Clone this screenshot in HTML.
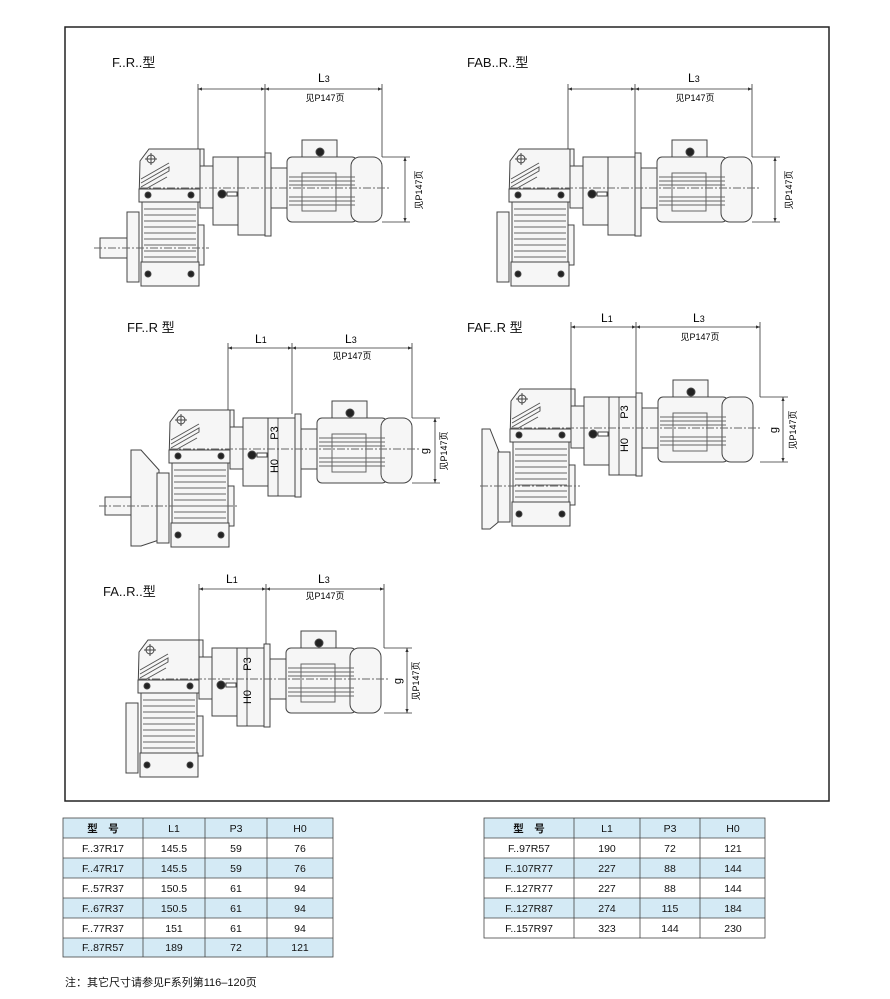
<!DOCTYPE html>
<html><head><meta charset="utf-8"><style>
html,body{margin:0;padding:0;background:#fff;}
svg{display:block;font-family:"Liberation Sans","Noto Sans CJK SC",sans-serif;}
</style></head><body>
<svg width="890" height="999" viewBox="0 0 890 999" xmlns="http://www.w3.org/2000/svg">
<defs>
<marker id="a" viewBox="0 0 10 10" refX="10" refY="5" markerWidth="7" markerHeight="5" orient="auto-start-reverse"><path d="M0,1 L10,5 L0,9 Z" fill="#333"/></marker>
<g id="gb" stroke="#444" stroke-width="1" fill="#f6f6f6">
  <rect x="-12" y="63" width="12" height="70"/>
  <rect x="59" y="76" width="6" height="40"/>
  <rect x="3" y="52" width="56" height="80"/>
  <g stroke="#666">
   <line x1="5" y1="60" x2="57" y2="60"/><line x1="5" y1="66" x2="57" y2="66"/><line x1="5" y1="72" x2="57" y2="72"/><line x1="5" y1="78" x2="57" y2="78"/><line x1="5" y1="84" x2="57" y2="84"/><line x1="5" y1="90" x2="57" y2="90"/><line x1="5" y1="96" x2="57" y2="96"/><line x1="5" y1="102" x2="57" y2="102"/><line x1="5" y1="108" x2="57" y2="108"/>
  </g>
  <path d="M1,12 L10,0 L61,0 L61,52 L0,52 Z"/>
  <rect x="61" y="0" width="4" height="48"/>
  <path d="M2,34 L30,18 L30,22 L2,38 M2,30 L30,14 M3,42 L28,28" fill="none" stroke="#555"/>
  <circle cx="12" cy="10" r="4"/>
  <line x1="6" y1="10" x2="18" y2="10"/><line x1="12" y1="4" x2="12" y2="16"/>
  <rect x="0" y="40" width="61" height="13"/>
  <circle cx="9" cy="46" r="3" fill="#222"/><circle cx="52" cy="46" r="3" fill="#222"/>
  <rect x="2" y="113" width="58" height="24"/>
  <circle cx="9" cy="125" r="3" fill="#222"/><circle cx="52" cy="125" r="3" fill="#222"/>
</g>
<g id="im" stroke="#444" stroke-width="1" fill="#f6f6f6">
  <rect x="61" y="17" width="13" height="42"/>
  <rect x="74" y="8" width="25" height="68"/>
  <rect x="99" y="8" width="27" height="78"/>
  <rect x="126" y="4" width="6" height="83"/>
  <rect x="132" y="19" width="16" height="40"/>
  <circle cx="83" cy="45" r="4" fill="#222"/>
  <rect x="88" y="43" width="10" height="4" fill="#fff"/>
</g>
<g id="mo" stroke="#444" stroke-width="1" fill="#f6f6f6">
  <rect x="163" y="-9" width="35" height="27"/>
  <circle cx="181" cy="3" r="4" fill="#222"/>
  <rect x="148" y="8" width="70" height="65" rx="5"/>
  <rect x="212" y="8" width="31" height="65" rx="9"/>
  <g fill="none" stroke="#666">
   <line x1="150" y1="28" x2="216" y2="28"/><line x1="150" y1="32" x2="216" y2="32"/><line x1="150" y1="36" x2="216" y2="36"/><line x1="150" y1="48" x2="216" y2="48"/><line x1="150" y1="52" x2="216" y2="52"/><line x1="150" y1="56" x2="216" y2="56"/>
   <rect x="163" y="24" width="34" height="38"/>
  </g>
</g>
</defs>

<rect x="65" y="27" width="764" height="774" fill="none" stroke="#222" stroke-width="1.5"/>

<g font-size="13" fill="#111">
<text x="112" y="67">F..R..型</text>
<text x="467" y="67">FAB..R..型</text>
<text x="127" y="332">FF..R 型</text>
<text x="467" y="332">FAF..R 型</text>
<text x="103" y="596">FA..R..型</text>
</g>

<!-- F..R -->
<g transform="translate(139,149)">
 <rect x="-39" y="89" width="30" height="20" fill="#f6f6f6" stroke="#444"/>
 <use href="#gb"/><use href="#im"/><use href="#mo"/>
 <line x1="-45" y1="99" x2="70" y2="99" stroke="#666" stroke-dasharray="8,2,2,2"/>
 <line x1="0" y1="39" x2="250" y2="39" stroke="#666" stroke-dasharray="8,2,2,2"/>
</g>
<g stroke="#333" stroke-width="0.8" fill="none">
 <line x1="198" y1="84" x2="198" y2="149"/><line x1="265" y1="84" x2="265" y2="153"/><line x1="382" y1="84" x2="382" y2="157"/>
 <line x1="198" y1="89" x2="265" y2="89" marker-start="url(#a)" marker-end="url(#a)"/>
 <line x1="265" y1="89" x2="382" y2="89" marker-start="url(#a)" marker-end="url(#a)"/>
 <line x1="382" y1="157" x2="410" y2="157"/><line x1="382" y1="222" x2="410" y2="222"/>
 <line x1="405" y1="157" x2="405" y2="222" marker-start="url(#a)" marker-end="url(#a)"/>
</g>
<text x="318" y="82" font-size="12">L<tspan font-size="9">3</tspan></text>
<text x="325" y="101" font-size="9" text-anchor="middle">见P147页</text>
<text transform="translate(422,190) rotate(-90)" font-size="9" text-anchor="middle">见P147页</text>

<!-- FAB -->
<g transform="translate(509,149)">
 <use href="#gb"/><use href="#im"/><use href="#mo"/>
 <line x1="0" y1="39" x2="250" y2="39" stroke="#666" stroke-dasharray="8,2,2,2"/>
</g>
<g stroke="#333" stroke-width="0.8" fill="none">
 <line x1="568" y1="84" x2="568" y2="149"/><line x1="635" y1="84" x2="635" y2="153"/><line x1="752" y1="84" x2="752" y2="157"/>
 <line x1="568" y1="89" x2="635" y2="89" marker-start="url(#a)" marker-end="url(#a)"/>
 <line x1="635" y1="89" x2="752" y2="89" marker-start="url(#a)" marker-end="url(#a)"/>
 <line x1="752" y1="157" x2="780" y2="157"/><line x1="752" y1="222" x2="780" y2="222"/>
 <line x1="775" y1="157" x2="775" y2="222" marker-start="url(#a)" marker-end="url(#a)"/>
</g>
<text x="688" y="82" font-size="12">L<tspan font-size="9">3</tspan></text>
<text x="695" y="101" font-size="9" text-anchor="middle">见P147页</text>
<text transform="translate(792,190) rotate(-90)" font-size="9" text-anchor="middle">见P147页</text>

<!-- FF -->
<g transform="translate(169,410)">
 <path d="M-38,40 L-28,40 L-10,60 L-10,130 L-28,136 L-38,136 Z" fill="#f6f6f6" stroke="#444"/>
 <rect x="-64" y="87" width="26" height="18" fill="#f6f6f6" stroke="#444"/>
 <use href="#gb"/><use href="#im"/><use href="#mo"/>
 <line x1="-70" y1="96" x2="70" y2="96" stroke="#666" stroke-dasharray="8,2,2,2"/>
 <line x1="0" y1="39" x2="250" y2="39" stroke="#666" stroke-dasharray="8,2,2,2"/>
 <line x1="109" y1="8" x2="109" y2="86" stroke="#333" stroke-width="0.8"/>
</g>
<g stroke="#333" stroke-width="0.8" fill="none">
 <line x1="228" y1="343" x2="228" y2="410"/><line x1="292" y1="343" x2="292" y2="414"/><line x1="412" y1="343" x2="412" y2="418"/>
 <line x1="228" y1="348" x2="292" y2="348" marker-start="url(#a)" marker-end="url(#a)"/>
 <line x1="292" y1="348" x2="412" y2="348" marker-start="url(#a)" marker-end="url(#a)"/>
 <line x1="412" y1="418" x2="440" y2="418"/><line x1="412" y1="483" x2="440" y2="483"/>
 <line x1="435" y1="418" x2="435" y2="483" marker-start="url(#a)" marker-end="url(#a)"/>
</g>
<text x="255" y="343" font-size="12">L<tspan font-size="9">1</tspan></text>
<text x="345" y="343" font-size="12">L<tspan font-size="9">3</tspan></text>
<text x="352" y="359" font-size="9" text-anchor="middle">见P147页</text>
<text transform="translate(278,433) rotate(-90)" font-size="11" text-anchor="middle">P3</text>
<text transform="translate(278,466) rotate(-90)" font-size="11" text-anchor="middle">H0</text>
<text transform="translate(428,451) rotate(-90)" font-size="11" text-anchor="middle">g</text>
<text transform="translate(447,451) rotate(-90)" font-size="9" text-anchor="middle">见P147页</text>

<!-- FAF -->
<g transform="translate(510,389)">
 <path d="M-28,40 L-20,40 L-8,70 L-8,130 L-20,140 L-28,140 Z" fill="#f6f6f6" stroke="#444"/>
 <use href="#gb"/><use href="#im"/><use href="#mo"/>
 <line x1="-30" y1="97" x2="70" y2="97" stroke="#666" stroke-dasharray="8,2,2,2"/>
 <line x1="0" y1="39" x2="250" y2="39" stroke="#666" stroke-dasharray="8,2,2,2"/>
 <line x1="109" y1="8" x2="109" y2="86" stroke="#333" stroke-width="0.8"/>
</g>
<g stroke="#333" stroke-width="0.8" fill="none">
 <line x1="571" y1="322" x2="571" y2="389"/><line x1="636" y1="322" x2="636" y2="393"/><line x1="760" y1="322" x2="760" y2="397"/>
 <line x1="571" y1="327" x2="636" y2="327" marker-start="url(#a)" marker-end="url(#a)"/>
 <line x1="636" y1="327" x2="760" y2="327" marker-start="url(#a)" marker-end="url(#a)"/>
 <line x1="760" y1="397" x2="788" y2="397"/><line x1="760" y1="462" x2="788" y2="462"/>
 <line x1="783" y1="397" x2="783" y2="462" marker-start="url(#a)" marker-end="url(#a)"/>
</g>
<text x="601" y="322" font-size="12">L<tspan font-size="9">1</tspan></text>
<text x="693" y="322" font-size="12">L<tspan font-size="9">3</tspan></text>
<text x="700" y="340" font-size="9" text-anchor="middle">见P147页</text>
<text transform="translate(628,412) rotate(-90)" font-size="11" text-anchor="middle">P3</text>
<text transform="translate(628,445) rotate(-90)" font-size="11" text-anchor="middle">H0</text>
<text transform="translate(777,430) rotate(-90)" font-size="11" text-anchor="middle">g</text>
<text transform="translate(796,430) rotate(-90)" font-size="9" text-anchor="middle">见P147页</text>

<!-- FA -->
<g transform="translate(138,640)">
 <use href="#gb"/><use href="#im"/><use href="#mo"/>
 <line x1="0" y1="39" x2="250" y2="39" stroke="#666" stroke-dasharray="8,2,2,2"/>
 <line x1="109" y1="8" x2="109" y2="86" stroke="#333" stroke-width="0.8"/>
</g>
<g stroke="#333" stroke-width="0.8" fill="none">
 <line x1="199" y1="584" x2="199" y2="640"/><line x1="266" y1="584" x2="266" y2="644"/><line x1="384" y1="584" x2="384" y2="648"/>
 <line x1="199" y1="589" x2="266" y2="589" marker-start="url(#a)" marker-end="url(#a)"/>
 <line x1="266" y1="589" x2="384" y2="589" marker-start="url(#a)" marker-end="url(#a)"/>
 <line x1="384" y1="648" x2="412" y2="648"/><line x1="384" y1="713" x2="412" y2="713"/>
 <line x1="407" y1="648" x2="407" y2="713" marker-start="url(#a)" marker-end="url(#a)"/>
</g>
<text x="226" y="583" font-size="12">L<tspan font-size="9">1</tspan></text>
<text x="318" y="583" font-size="12">L<tspan font-size="9">3</tspan></text>
<text x="325" y="599" font-size="9" text-anchor="middle">见P147页</text>
<text transform="translate(251,664) rotate(-90)" font-size="11" text-anchor="middle">P3</text>
<text transform="translate(251,697) rotate(-90)" font-size="11" text-anchor="middle">H0</text>
<text transform="translate(401,681) rotate(-90)" font-size="11" text-anchor="middle">g</text>
<text transform="translate(419,681) rotate(-90)" font-size="9" text-anchor="middle">见P147页</text>

<!-- Table 1 -->
<g font-size="10.5" fill="#111" text-anchor="middle">
 <rect x="63" y="818" width="270" height="20" fill="#d4eaf5"/>
 <rect x="63" y="858" width="270" height="20" fill="#d4eaf5"/>
 <rect x="63" y="898" width="270" height="20" fill="#d4eaf5"/>
 <rect x="63" y="938" width="270" height="19" fill="#d4eaf5"/>
 <g stroke="#444" stroke-width="0.8" fill="none">
  <rect x="63" y="818" width="270" height="139"/>
  <line x1="63" y1="838" x2="333" y2="838"/><line x1="63" y1="858" x2="333" y2="858"/><line x1="63" y1="878" x2="333" y2="878"/><line x1="63" y1="898" x2="333" y2="898"/><line x1="63" y1="918" x2="333" y2="918"/><line x1="63" y1="938" x2="333" y2="938"/>
  <line x1="143" y1="818" x2="143" y2="957"/><line x1="205" y1="818" x2="205" y2="957"/><line x1="267" y1="818" x2="267" y2="957"/>
 </g>
 <text x="103" y="832" font-weight="bold">型　号</text><text x="174" y="832">L1</text><text x="236" y="832">P3</text><text x="300" y="832">H0</text>
 <text x="103" y="852">F..37R17</text><text x="174" y="852">145.5</text><text x="236" y="852">59</text><text x="300" y="852">76</text>
 <text x="103" y="872">F..47R17</text><text x="174" y="872">145.5</text><text x="236" y="872">59</text><text x="300" y="872">76</text>
 <text x="103" y="892">F..57R37</text><text x="174" y="892">150.5</text><text x="236" y="892">61</text><text x="300" y="892">94</text>
 <text x="103" y="912">F..67R37</text><text x="174" y="912">150.5</text><text x="236" y="912">61</text><text x="300" y="912">94</text>
 <text x="103" y="932">F..77R37</text><text x="174" y="932">151</text><text x="236" y="932">61</text><text x="300" y="932">94</text>
 <text x="103" y="951">F..87R57</text><text x="174" y="951">189</text><text x="236" y="951">72</text><text x="300" y="951">121</text>
</g>

<!-- Table 2 -->
<g font-size="10.5" fill="#111" text-anchor="middle">
 <rect x="484" y="818" width="281" height="20" fill="#d4eaf5"/>
 <rect x="484" y="858" width="281" height="20" fill="#d4eaf5"/>
 <rect x="484" y="898" width="281" height="20" fill="#d4eaf5"/>
 <g stroke="#444" stroke-width="0.8" fill="none">
  <rect x="484" y="818" width="281" height="120"/>
  <line x1="484" y1="838" x2="765" y2="838"/><line x1="484" y1="858" x2="765" y2="858"/><line x1="484" y1="878" x2="765" y2="878"/><line x1="484" y1="898" x2="765" y2="898"/><line x1="484" y1="918" x2="765" y2="918"/>
  <line x1="574" y1="818" x2="574" y2="938"/><line x1="640" y1="818" x2="640" y2="938"/><line x1="700" y1="818" x2="700" y2="938"/>
 </g>
 <text x="529" y="832" font-weight="bold">型　号</text><text x="607" y="832">L1</text><text x="670" y="832">P3</text><text x="733" y="832">H0</text>
 <text x="529" y="852">F..97R57</text><text x="607" y="852">190</text><text x="670" y="852">72</text><text x="733" y="852">121</text>
 <text x="529" y="872">F..107R77</text><text x="607" y="872">227</text><text x="670" y="872">88</text><text x="733" y="872">144</text>
 <text x="529" y="892">F..127R77</text><text x="607" y="892">227</text><text x="670" y="892">88</text><text x="733" y="892">144</text>
 <text x="529" y="912">F..127R87</text><text x="607" y="912">274</text><text x="670" y="912">115</text><text x="733" y="912">184</text>
 <text x="529" y="932">F..157R97</text><text x="607" y="932">323</text><text x="670" y="932">144</text><text x="733" y="932">230</text>
</g>

<text x="65" y="986" font-size="11" fill="#111">注：其它尺寸请参见F系列第116–120页</text>
</svg>
</body></html>
